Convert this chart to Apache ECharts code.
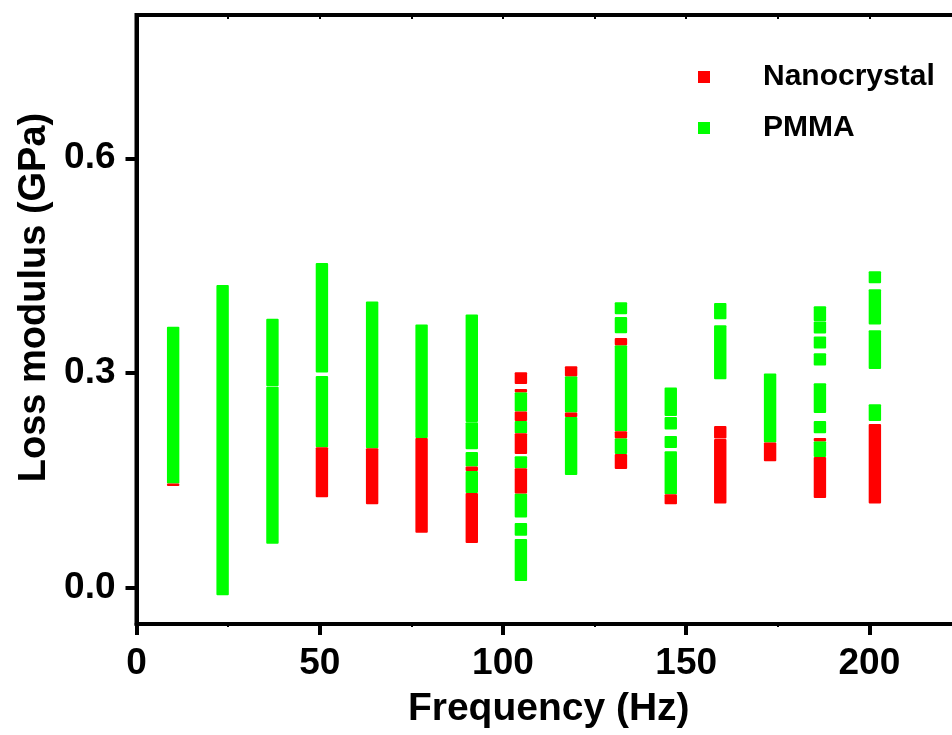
<!DOCTYPE html>
<html>
<head>
<meta charset="utf-8">
<script src="https://cdn.jsdelivr.net/npm/echarts@6/dist/echarts.min.js"></script>
<style>
html,body{margin:0;padding:0;background:#fff;}
#chart{width:952px;height:735px;}
</style>
</head>
<body>
<div id="chart"></div>
<script>
// Frequencies (Hz) of the measurement columns
const frequencies = [10, 23.5, 37.1, 50.6, 64.3, 77.8, 91.5, 104.9, 118.6, 132.2, 145.8, 159.3, 172.9, 186.5, 201.5];

// Visible vertical runs of stacked markers: [frequency, low GPa, high GPa]
const nanocrystalSegments = [
  [10, 0.1427, 0.146],
  [50.6, 0.127, 0.1967],
  [64.3, 0.1172, 0.1953],
  [77.8, 0.0772, 0.2097],
  [91.5, 0.1637, 0.170], [91.5, 0.0632, 0.133],
  [104.9, 0.285, 0.3014], [104.9, 0.2735, 0.278], [104.9, 0.2335, 0.2465], [104.9, 0.1874, 0.2163], [104.9, 0.1321, 0.1674],
  [118.6, 0.2958, 0.3098], [118.6, 0.239, 0.2451],
  [132.2, 0.339, 0.3493], [132.2, 0.2093, 0.219], [132.2, 0.1665, 0.1874],
  [145.8, 0.1172, 0.1312],
  [159.3, 0.2089, 0.2265], [159.3, 0.1182, 0.2083],
  [172.9, 0.1772, 0.2033],
  [186.5, 0.2051, 0.2097], [186.5, 0.126, 0.1832],
  [201.5, 0.1182, 0.2293]
];

const pmmaSegments = [
  [10, 0.146, 0.365],
  [23.5, -0.010, 0.423],
  [37.1, 0.282, 0.376], [37.1, 0.062, 0.281],
  [50.6, 0.301, 0.454], [50.6, 0.1967, 0.296],
  [64.3, 0.1953, 0.400],
  [77.8, 0.2097, 0.368],
  [91.5, 0.232, 0.382], [91.5, 0.194, 0.2315], [91.5, 0.170, 0.190], [91.5, 0.133, 0.1637],
  [104.9, 0.2465, 0.2735], [104.9, 0.2163, 0.2335], [104.9, 0.1674, 0.1842], [104.9, 0.0986, 0.1321], [104.9, 0.073, 0.091], [104.9, 0.010, 0.0688],
  [118.6, 0.2451, 0.2958], [118.6, 0.158, 0.239],
  [132.2, 0.3823, 0.399], [132.2, 0.3558, 0.3785], [132.2, 0.219, 0.339], [132.2, 0.1874, 0.2093],
  [145.8, 0.2404, 0.280], [145.8, 0.2214, 0.239], [145.8, 0.1958, 0.2125], [145.8, 0.1312, 0.1912],
  [159.3, 0.3753, 0.398], [159.3, 0.2916, 0.367],
  [172.9, 0.2033, 0.2996],
  [186.5, 0.3725, 0.3935], [186.5, 0.3554, 0.3721], [186.5, 0.3345, 0.3512], [186.5, 0.3107, 0.3279], [186.5, 0.2446, 0.286], [186.5, 0.2163, 0.2335], [186.5, 0.1832, 0.2051],
  [201.5, 0.4256, 0.4423], [201.5, 0.3679, 0.4172], [201.5, 0.306, 0.36], [201.5, 0.2335, 0.2567]
];

const xTicks = [0, 50, 100, 150, 200];
const yTicks = [0, 0.3, 0.6];
const seriesNames = ['Nanocrystal', 'PMMA'];
const seriesColors = ['#ff0000', '#00ff00'];

const FONT = "'Liberation Sans', Arial, sans-serif";

function renderSeg(params, api) {
  const x = api.value(0), lo = api.value(1), hi = api.value(2);
  const pTop = api.coord([x, hi]);
  const pBot = api.coord([x, lo]);
  const w = 12.4;
  return {
    type: 'rect',
    shape: { x: pTop[0] - w / 2, y: pTop[1], width: w, height: pBot[1] - pTop[1], r: 1 },
    style: { fill: api.visual('color') }
  };
}

const chart = echarts.init(document.getElementById('chart'), null, { renderer: 'canvas' });
chart.setOption({
  animation: false,
  backgroundColor: '#fff',
  color: seriesColors,
  grid: { left: 136.5, right: -9, top: 15, bottom: 111, outerBoundsMode: 'none', containLabel: false, show: true, borderColor: '#000', borderWidth: 4, backgroundColor: 'transparent' },
  legend: {
    orient: 'vertical', left: 693, top: 52,
    itemWidth: 12, itemHeight: 12, itemGap: 11, icon: 'rect',
    data: seriesNames,
    textStyle: { fontSize: 30, fontWeight: 'bold', fontFamily: FONT, color: '#000', padding: [0, 0, 0, 48], lineHeight: 40 }
  },
  xAxis: [{
    type: 'value', min: 0, max: 225, interval: 50, position: 'bottom',
    axisLine: { show: true, onZero: false, lineStyle: { color: '#000', width: 4 } },
    axisTick: { show: true, inside: false, length: 11, customValues: xTicks, lineStyle: { color: '#000', width: 4 } },
    minorTick: { show: true, splitNumber: 2, length: 3, lineStyle: { color: '#000', width: 2 } },
    splitLine: { show: false },
    axisLabel: { customValues: xTicks, fontSize: 37, fontWeight: 'bold', fontFamily: FONT, color: '#000', margin: 21 },
    name: 'Frequency (Hz)', nameLocation: 'middle', nameGap: 66,
    nameTextStyle: { fontSize: 39, fontWeight: 'bold', fontFamily: FONT, color: '#000' }
  }, {
    type: 'value', min: 0, max: 225, interval: 25, position: 'top',
    axisLine: { show: false, onZero: false },
    axisTick: { show: true, inside: true, length: 4, lineStyle: { color: '#000', width: 2 } },
    axisLabel: { show: false }, splitLine: { show: false }
  }],
  yAxis: {
    type: 'value', min: -0.05, max: 0.8,
    axisLine: { show: true, onZero: false, lineStyle: { color: '#000', width: 4 } },
    axisTick: { show: true, inside: false, length: 11, customValues: yTicks, lineStyle: { color: '#000', width: 4 } },
    axisLabel: { customValues: yTicks, formatter: v => v.toFixed(1), fontSize: 37, fontWeight: 'bold', fontFamily: FONT, color: '#000', margin: 21 },
    splitLine: { show: false },
    name: 'Loss modulus (GPa)', nameLocation: 'middle', nameGap: 78, nameRotate: 90,
    nameTextStyle: { fontSize: 38, fontWeight: 'bold', fontFamily: FONT, color: '#000', padding: [0, 0, 0, 44] }
  },
  series: [
    { name: seriesNames[0], type: 'custom', renderItem: renderSeg, data: nanocrystalSegments, encode: { x: 0, y: [1, 2] }, itemStyle: { color: seriesColors[0] }, z: 3 },
    { name: seriesNames[1], type: 'custom', renderItem: renderSeg, data: pmmaSegments, encode: { x: 0, y: [1, 2] }, itemStyle: { color: seriesColors[1] }, z: 2 }
  ]
});
</script>
</body>
</html>
